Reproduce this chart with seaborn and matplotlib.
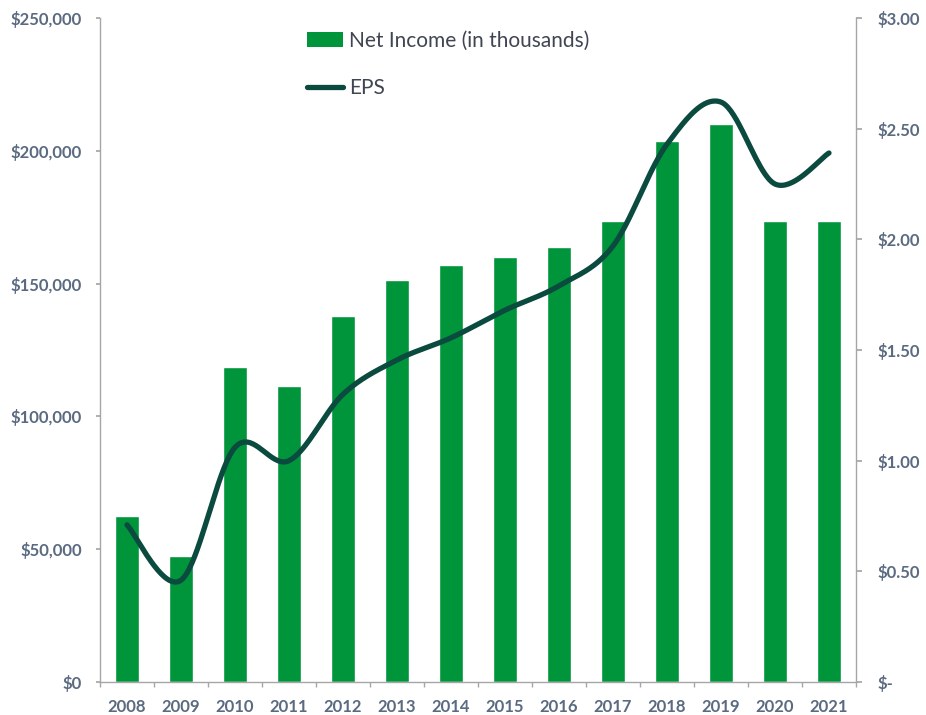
import numpy as np
import pandas as pd
import matplotlib
matplotlib.use("Agg")
import matplotlib.pyplot as plt
import seaborn as sns
from matplotlib.ticker import FuncFormatter, FixedLocator
from matplotlib.patches import Patch
from matplotlib.lines import Line2D

years = ["2008", "2009", "2010", "2011", "2012", "2013", "2014",
         "2015", "2016", "2017", "2018", "2019", "2020", "2021"]
net_income = [62500, 47400, 118600, 111400, 137800, 151400, 157000,
              160000, 163800, 173600, 203700, 210000, 173600, 173600]
eps = [0.71, 0.46, 1.06, 1.00, 1.30, 1.455, 1.555,
       1.68, 1.79, 1.97, 2.43, 2.62, 2.25, 2.39]

BAR = "#00953A"
LINE = "#0B4A3F"
TICK = "#5A6A80"
SPINE = "#A6A6A6"
LEG = "#404552"

sns.set_theme(style="white")
plt.rcParams["font.family"] = ["Lato", "DejaVu Sans"]

fig = plt.figure(figsize=(9.26, 7.15), dpi=100)
ax = fig.add_axes([100/926, 1-682/715, (856-100)/926, (682-18)/715])

df = pd.DataFrame({"year": years, "net": net_income})
sns.barplot(data=df, x="year", y="net", color=BAR, saturation=1, width=0.43, ax=ax)
ax.set_xlim(-0.5, len(years)-0.5)
ax.set_ylim(0, 250000)
ax.set_xlabel("")
ax.set_ylabel("")
ax.yaxis.set_major_locator(FixedLocator(np.arange(0, 250001, 50000)))
ax.yaxis.set_major_formatter(FuncFormatter(lambda v, p: f"${v:,.0f}"))

# smooth line (Catmull-Rom through the EPS points)
x = np.arange(len(eps), dtype=float)
y = np.array(eps, dtype=float)
px = np.concatenate([[x[0]], x, [x[-1]]])
py = np.concatenate([[y[0]], y, [y[-1]]])
sx, sy = [], []
t = np.linspace(0, 1, 40)
for i in range(1, len(px)-2):
    p0, p1, p2, p3 = (np.array([px[j], py[j]]) for j in range(i-1, i+3))
    c1 = p1 + (p2 - p0) / 6
    c2 = p2 - (p3 - p1) / 6
    for tt in t[:-1] if i < len(px)-3 else t:
        b = ((1-tt)**3)*p1 + 3*((1-tt)**2)*tt*c1 + 3*(1-tt)*tt**2*c2 + tt**3*p2
        sx.append(b[0]); sy.append(b[1])

ax2 = ax.twinx()
ax2.plot(sx, sy, color=LINE, lw=3.8, solid_capstyle="round")
ax2.set_ylim(0, 3.0)
ax2.yaxis.set_major_locator(FixedLocator(np.arange(0, 3.01, 0.5)))
ax2.yaxis.set_major_formatter(FuncFormatter(lambda v, p: "$-" if abs(v) < 1e-9 else f"${v:.2f}"))
ax2.set_xlim(-0.5, len(years)-0.5)

for a in (ax, ax2):
    for s in a.spines.values():
        s.set_visible(False)
    a.grid(False)

ax.spines["left"].set_visible(True)
ax.spines["left"].set_color(SPINE)
ax.spines["bottom"].set_visible(True)
ax.spines["bottom"].set_color(SPINE)
ax2.spines["right"].set_visible(True)
ax2.spines["right"].set_color(SPINE)
for s in ("left", "bottom"):
    ax.spines[s].set_linewidth(1.0)
ax2.spines["right"].set_linewidth(1.0)

ax.tick_params(axis="y", which="major", length=3, color=SPINE, labelcolor=TICK,
               labelsize=12, pad=10, left=True)
ax2.tick_params(axis="y", which="major", length=4, color=SPINE, labelcolor=TICK,
                labelsize=12, pad=11.5, right=True)
ax.set_xticks(np.arange(len(years)))
ax.set_xticklabels(years)
ax.set_xticks(np.arange(-0.5, len(years), 1.0), minor=True)
ax.tick_params(axis="x", which="major", length=0, labelcolor=TICK, labelsize=12, pad=12)
ax.tick_params(axis="x", which="minor", length=3.5, color=SPINE, bottom=True)
for lab in ax.get_xticklabels() + ax.get_yticklabels() + ax2.get_yticklabels():
    lab.set_fontweight("bold")

handles = [Patch(facecolor=BAR, edgecolor="none", label="Net Income (in thousands)"),
           Line2D([0], [0], color=LINE, lw=3.8, solid_capstyle="round", label="EPS")]
leg = fig.legend(handles=handles, loc="upper left",
                 bbox_to_anchor=(307/926, 1-31/715), bbox_transform=fig.transFigure,
                 frameon=False, fontsize=15, labelcolor=LEG, handlelength=1.75,
                 handletextpad=0.25, labelspacing=1.3, borderpad=0, borderaxespad=0)

fig.savefig("out.png", dpi=100)
